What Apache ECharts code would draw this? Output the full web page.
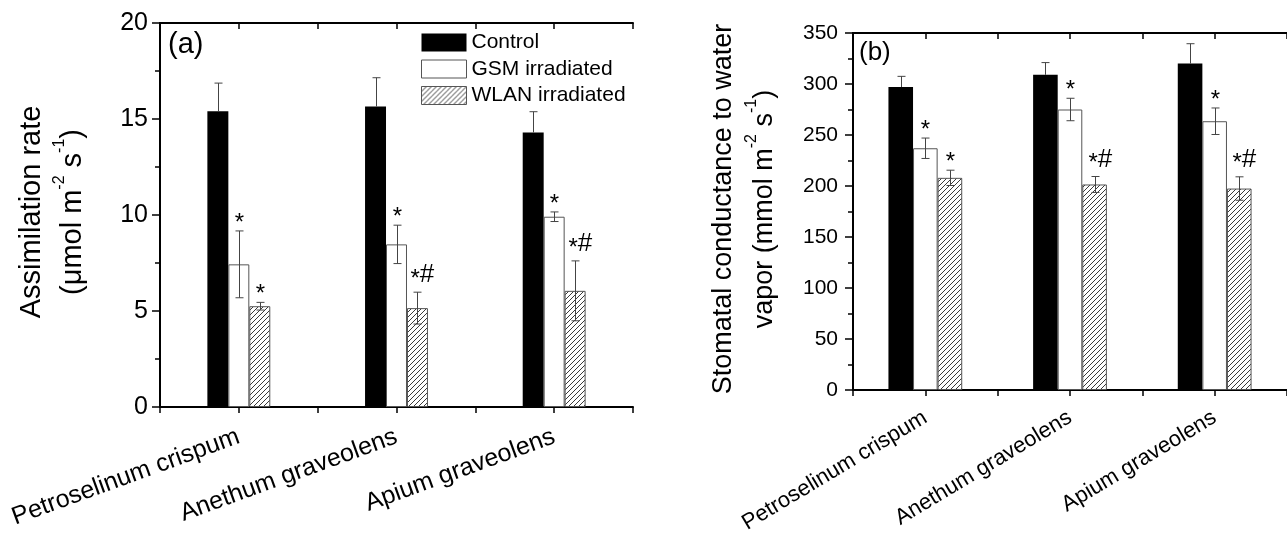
<!DOCTYPE html>
<html>
<head>
<meta charset="utf-8">
<script src="https://cdn.jsdelivr.net/npm/echarts@6/dist/echarts.min.js"></script>
<style>
html, body { margin: 0; padding: 0; background: #fff; }
#chart { width: 1287px; height: 536px; }
</style>
</head>
<body>
<div id="chart"></div>
<script>
// categories and series names
var categories = ['Petroselinum crispum', 'Anethum graveolens', 'Apium graveolens'];
var seriesNames = ['Control', 'GSM irradiated', 'WLAN irradiated'];

// (a) assimilation rate
var assimControl = [15.4, 15.65, 14.3];
var assimControlErr = [1.47, 1.5, 1.08];
var assimGsm = [7.43, 8.47, 9.91];
var assimGsmErr = [1.74, 1.0, 0.25];
var assimWlan = [5.25, 5.15, 6.05];
var assimWlanErr = [0.2, 0.83, 1.56];
var assimGsmMarks = ['*', '*', '*'];
var assimWlanMarks = ['*', '*#', '*#'];
var assimTicks = [0, 5, 10, 15, 20];

// (b) stomatal conductance
var condControl = [297, 309, 320];
var condControlErr = [10.5, 12, 19.5];
var condGsm = [237, 275, 263.5];
var condGsmErr = [10, 11, 13];
var condWlan = [208, 201.5, 197.5];
var condWlanErr = [7.5, 7.8, 11.5];
var condGsmMarks = ['*', '*', '*'];
var condWlanMarks = ['*', '*#', '*#'];
var condTicks = [0, 50, 100, 150, 200, 250, 300, 350];

var fam = 'Liberation Sans, Arial, sans-serif';

function hatch() {
    var c = document.createElement('canvas');
    c.width = 5; c.height = 5;
    var ctx = c.getContext('2d');
    ctx.strokeStyle = '#3a3a3a';
    ctx.lineWidth = 1;
    [-5, 0, 5].forEach(function (k) {
        ctx.beginPath();
        ctx.moveTo(k, 5);
        ctx.lineTo(k + 5, 0);
        ctx.stroke();
    });
    return c;
}
var hatchFill = { image: hatch(), repeat: 'repeat' };

var styles = [
    { color: '#000' },
    { color: '#fff', borderColor: '#555', borderWidth: 1 },
    { color: hatchFill, borderColor: '#555', borderWidth: 1 }
];

function barSeries(k, vals, xi, yi, bw) {
    return {
        name: seriesNames[k], type: 'bar', xAxisIndex: xi, yAxisIndex: yi,
        data: vals, barWidth: bw, barGap: '0%', itemStyle: styles[k], silent: true
    };
}

function errSeries(vals, errs, marks, slot, pct, upOnly, xi, yi) {
    return {
        type: 'custom', xAxisIndex: xi, yAxisIndex: yi, z: 5, silent: true,
        data: vals.map(function (v, i) { return [i, v, errs[i]]; }),
        renderItem: function (params, api) {
            var i = api.value(0), v = api.value(1), e = api.value(2);
            var w = api.size([1, 0])[0] * pct;
            var x = Math.round(api.coord([i, v])[0] + slot * w) + 0.5;
            var yT = api.coord([i, v + e])[1];
            var yB = api.coord([i, upOnly ? v : v - e])[1];
            var cap = 4;
            var ls = { stroke: '#444', lineWidth: 1 };
            var kids = [
                { type: 'line', shape: { x1: x, y1: yT, x2: x, y2: yB }, style: ls },
                { type: 'line', shape: { x1: x - cap, y1: yT, x2: x + cap, y2: yT }, style: ls }
            ];
            if (!upOnly) {
                kids.push({ type: 'line', shape: { x1: x - cap, y1: yB, x2: x + cap, y2: yB }, style: ls });
            }
            var m = marks && marks[params.dataIndex];
            if (m) {
                var two = m.length > 1;
                kids.push({
                    type: 'text', x: two ? x - 7 : x, y: yT + 4,
                    style: {
                        text: two ? '{s|*}{h|#}' : '{s|*}',
                        align: two ? 'left' : 'center', verticalAlign: 'bottom',
                        rich: {
                            s: { fontSize: 24, fontFamily: fam, fill: '#000' },
                            h: { fontSize: 26, fontFamily: fam, fill: '#000', padding: [0, 0, 8, 0] }
                        }
                    }
                });
            }
            return { type: 'group', children: kids };
        }
    };
}

function catAxis(g, rot, size, margin) {
    return {
        type: 'category', gridIndex: g, position: 'bottom', data: categories,
        axisLine: { show: true, lineStyle: { color: '#000', width: 2 } },
        axisTick: { show: false },
        splitLine: { show: false },
        axisLabel: { interval: 0, rotate: rot, margin: margin, fontSize: size, fontFamily: fam, color: '#000' }
    };
}

function tickAxis(g, pos, inside, showLine) {
    return {
        type: 'value', gridIndex: g, position: pos, min: 0, max: 6, interval: 1,
        axisLine: { show: showLine, lineStyle: { color: '#000', width: 2 } },
        axisTick: { show: true, inside: inside, length: 6, lineStyle: { color: '#000', width: 1.5 } },
        axisLabel: { show: false },
        splitLine: { show: false }
    };
}

function valAxis(g, pos, ticks, inside, size, margin) {
    return {
        type: 'value', gridIndex: g, position: pos,
        min: ticks[0], max: ticks[ticks.length - 1], interval: ticks[1] - ticks[0],
        axisLine: { show: true, lineStyle: { color: '#000', width: 2 } },
        axisTick: { show: true, inside: inside, length: 8, lineStyle: { color: '#000', width: 1.5 } },
        minorTick: { show: true, splitNumber: 2, length: 5, lineStyle: { color: '#000', width: 1.5 } },
        axisLabel: { show: !inside, margin: margin, fontSize: size, fontFamily: fam, color: '#000' },
        splitLine: { show: false },
        minorSplitLine: { show: false }
    };
}

var richTitle = function (size) {
    return {
        n: { fontSize: size, lineHeight: 41, fontFamily: fam, fill: '#000' },
        s: { fontSize: 16, lineHeight: 16, verticalAlign: 'top', fontFamily: fam, fill: '#000' }
    };
};

var option = {
    animation: false,
    backgroundColor: '#fff',
    grid: [
        { left: 160, top: 23, width: 473, height: 384 },
        { left: 853, top: 33, width: 442, height: 357 }
    ],
    legend: {
        left: 421, top: 32, padding: 0, orient: 'vertical', icon: 'rect',
        itemWidth: 45, itemHeight: 18, itemGap: 5.5, selectedMode: false,
        textStyle: { fontSize: 21, lineHeight: 18, fontFamily: fam, color: '#000' },
        data: [
            { name: 'Control', itemStyle: { borderWidth: 0 } },
            { name: 'GSM irradiated', itemStyle: { borderColor: '#555', borderWidth: 1 } },
            { name: 'WLAN irradiated', itemStyle: { borderColor: '#555', borderWidth: 1 } }
        ]
    },
    xAxis: [
        catAxis(0, 20, 25, 29),
        tickAxis(0, 'bottom', false, false),
        tickAxis(0, 'top', true, true),
        catAxis(1, 31, 22, 26),
        tickAxis(1, 'bottom', false, false),
        tickAxis(1, 'top', true, true)
    ],
    yAxis: [
        valAxis(0, 'left', assimTicks, false, 25, 12),
        valAxis(0, 'right', assimTicks, true, 25, 12),
        valAxis(1, 'left', condTicks, false, 21, 15),
        valAxis(1, 'right', condTicks, true, 21, 15)
    ],
    series: [
        barSeries(0, assimControl, 0, 0, '13.3%'),
        barSeries(1, assimGsm, 0, 0, '13.3%'),
        barSeries(2, assimWlan, 0, 0, '13.3%'),
        errSeries(assimControl, assimControlErr, null, -1, 0.133, true, 0, 0),
        errSeries(assimGsm, assimGsmErr, assimGsmMarks, 0, 0.133, false, 0, 0),
        errSeries(assimWlan, assimWlanErr, assimWlanMarks, 1, 0.133, false, 0, 0),
        barSeries(0, condControl, 3, 2, '17%'),
        barSeries(1, condGsm, 3, 2, '17%'),
        barSeries(2, condWlan, 3, 2, '17%'),
        errSeries(condControl, condControlErr, null, -1, 0.17, true, 3, 2),
        errSeries(condGsm, condGsmErr, condGsmMarks, 0, 0.17, false, 3, 2),
        errSeries(condWlan, condWlanErr, condWlanMarks, 1, 0.17, false, 3, 2)
    ],
    graphic: [
        {
            type: 'text', x: 52, y: 212, rotation: Math.PI / 2,
            style: {
                text: '{n|Assimilation rate}\n{n|(\u03bcmol m}{s|-2}{n| s}{s|-1}{n|)}',
                align: 'center', verticalAlign: 'middle', rich: richTitle(29)
            }
        },
        {
            type: 'text', x: 744, y: 209, rotation: Math.PI / 2,
            style: {
                text: '{n|Stomatal conductance to water}\n{n|vapor (mmol m}{s|-2}{n| s}{s|-1}{n|)}',
                align: 'center', verticalAlign: 'middle', rich: richTitle(27)
            }
        },
        {
            type: 'text', x: 168, y: 30,
            style: { text: '(a)', fontSize: 29, fontFamily: fam, fill: '#000', align: 'left', verticalAlign: 'top' }
        },
        {
            type: 'text', x: 859, y: 40,
            style: { text: '(b)', fontSize: 26, fontFamily: fam, fill: '#000', align: 'left', verticalAlign: 'top' }
        }
    ]
};

var myChart = echarts.init(document.getElementById('chart'), null, { renderer: 'canvas' });
myChart.setOption(option);
</script>
</body>
</html>
